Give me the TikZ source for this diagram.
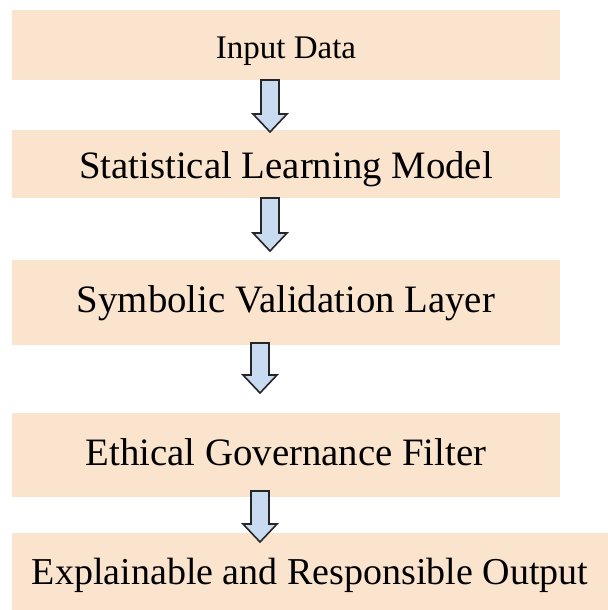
\documentclass[tikz,border=0pt]{standalone}
\usepackage{fontspec}
\setmainfont{Liberation Serif}
\usetikzlibrary{calc}

\definecolor{boxpeach}{RGB}{251,228,205}
\definecolor{arrowblue}{RGB}{200,219,240}

\tikzset{
  stage/.style={fill=boxpeach, inner sep=0pt, outer sep=0pt, minimum width=274pt,
    font=\fontsize{19.4}{23}\selectfont, text height=1em, text depth=0pt},
  downarrow/.style={draw=black!85, fill=arrowblue, line width=0.8pt, line join=miter,
    to path={let \p1=(\tikztostart), \p2=(\tikztotarget) in
      (\x1-4.5pt,\y1) -- (\x1+4.5pt,\y1) -- (\x1+4.5pt,\y2+9pt) -- (\x1+8.5pt,\y2+9pt)
      -- (\x1,\y2) -- (\x1-8.5pt,\y2+9pt) -- (\x1-4.5pt,\y2+9pt) -- cycle}}
}

\begin{document}
\begin{tikzpicture}[x=0.5pt, y=-0.5pt]
    \path[fill=white, use as bounding box] (0,0) rectangle (608,610);
    % stages
    \node[stage, minimum height=35pt, font=\fontsize{16.5}{20}\selectfont, text height=1.34em] (input) at (286,45) {Input Data};
    \node[stage, minimum height=34pt, text height=1.46em] (stat) at (286,164) {Statistical Learning Model};
    \node[stage, minimum height=42.5pt] (symb) at (286,302.5) {Symbolic Validation Layer};
    \node[stage, minimum height=42pt] (ethic) at (286,455) {Ethical Governance Filter};
    \node[stage, minimum height=38.5pt, minimum width=298pt, font=\fontsize{19}{23}\selectfont, text height=1.32em] (output) at (310,571.5) {Explainable and Responsible Output};
    % block arrows
    \draw[downarrow] ($(input.south)+(-16,0)$) to ($(stat.north)+(-16,2)$);
    \draw[downarrow] ($(stat.south)+(-16,0)$) to ($(symb.north)+(-16,-9)$);
    \draw[downarrow] ($(symb.south)+(-26,-2)$) to ($(ethic.north)+(-26,-20)$);
    \draw[downarrow] ($(ethic.south)+(-26,-6)$) to ($(output.north)+(-50,9)$);
\end{tikzpicture}
\end{document}
